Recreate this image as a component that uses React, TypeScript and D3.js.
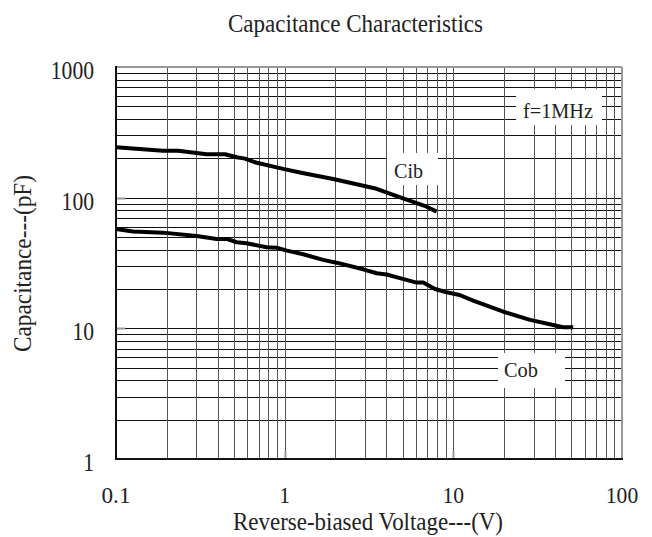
import React from "react";
import * as d3 from "d3";

const cibVoltage = [0.1, 0.19, 0.234, 0.345, 0.443, 0.519, 0.582, 0.682, 0.98, 1.23, 1.94, 3.51, 4.4, 6.95, 7.96];
const cibCap = [243, 229, 229, 215, 215, 204, 199, 185, 166, 156, 139, 117, 105, 85.3, 78.2];

const cobVoltage = [0.1, 0.1266, 0.19, 0.301, 0.395, 0.453, 0.519, 0.595, 0.782, 0.897, 1.03, 1.29, 1.69, 2.03, 2.92, 3.51, 4.02, 4.82, 6.06, 6.63, 7.78, 9.13, 10.9, 13.1, 19.8, 28.5, 39.1, 44.8, 51.4];
const cobCap = [57.6, 55.0, 54.0, 50.9, 48.3, 48.3, 45.6, 44.8, 41.7, 41.4, 39.3, 36.9, 33.4, 31.8, 28.3, 26.4, 25.8, 24.2, 22.4, 22.4, 20.0, 18.9, 18.0, 16.3, 13.4, 11.6, 10.6, 10.2, 10.2];

const xTicks = [0.1, 1, 10, 100];
const xTickLabels = ["0.1", "1", "10", "100"];
const yTicks = [1, 10, 100, 1000];
const yTickLabels = ["1", "10", "100", "1000"];

const title = "Capacitance Characteristics";
const xTitle = "Reverse-biased Voltage---(V)";
const yTitle = "Capacitance---(pF)";

const W = 652;
const H = 537;
const L = 116, R = 622, T = 67, B = 459;
const FONT = "'Liberation Serif', 'Times New Roman', serif";

function minorValues(lo: number, hi: number) {
  const out: number[] = [];
  for (let d = lo; d < hi; d *= 10) {
    for (let k = 1; k <= 9; k++) {
      const v = +(d * k).toPrecision(6);
      if (v > lo && v < hi) out.push(v);
    }
  }
  return out;
}

export default function App() {
  const x = d3.scaleLog().domain([0.1, 100]).range([L, R]);
  const y = d3.scaleLog().domain([1, 1000]).range([B, T]);
  const line = d3
    .line<[number, number]>()
    .x((d) => x(d[0]))
    .y((d) => y(d[1]))
    .curve(d3.curveLinear);

  const cib = cibVoltage.map((v, i) => [v, cibCap[i]] as [number, number]);
  const cob = cobVoltage.map((v, i) => [v, cobCap[i]] as [number, number]);

  const vLines = minorValues(0.1, 100);
  const hLines = minorValues(1, 1000);

  const boxes = [
    { text: "f=1MHz", x0: 516, x1: 602, y0: 89, y1: 125, tx: 558, ty: 118, w: 70 },
    { text: "Cib", x0: 387, x1: 438, y0: 153, y1: 185, tx: 408.5, ty: 178, w: 29 },
    { text: "Cob", x0: 498, x1: 565, y0: 353, y1: 388, tx: 521, ty: 377, w: 34 },
  ];

  const charW = 10.8;

  return (
    <svg
      width={W}
      height={H}
      style={{ position: "absolute", left: 0, top: 0, background: "#fff" }}
      fontFamily={FONT}
    >
      <rect x={0} y={0} width={W} height={H} fill="#fff" />
      {hLines.map((v) => (
        <line key={"h" + v} x1={L} x2={R} y1={Math.round(y(v)) + 0.5} y2={Math.round(y(v)) + 0.5} stroke="#111" strokeWidth={1} />
      ))}
      {vLines.map((v) => (
        <line key={"v" + v} x1={Math.round(x(v)) + 0.5} x2={Math.round(x(v)) + 0.5} y1={T} y2={B} stroke="#555" strokeWidth={1} />
      ))}
      {boxes.map((b) => (
        <rect key={"r" + b.text} x={b.x0} y={b.y0} width={b.x1 - b.x0} height={b.y1 - b.y0} fill="#fff" />
      ))}
      {yTicks.slice(1, 3).map((v) => (
        <line key={"yt" + v} x1={L} x2={L + 9} y1={Math.round(y(v)) + 0.5} y2={Math.round(y(v)) + 0.5} stroke="#999" strokeWidth={2} />
      ))}
      {xTicks.slice(1, 3).map((v) => (
        <line key={"xt" + v} x1={Math.round(x(v)) + 0.5} x2={Math.round(x(v)) + 0.5} y1={B} y2={B - 8} stroke="#999" strokeWidth={2} />
      ))}
      <line x1={L} x2={R} y1={T} y2={T} stroke="#999" strokeWidth={2} />
      <line x1={R} x2={R} y1={T} y2={B} stroke="#999" strokeWidth={2} />
      <line x1={L} x2={L} y1={T - 1} y2={B + 1} stroke="#111" strokeWidth={2} />
      <line x1={L - 1} x2={R + 1} y1={B} y2={B} stroke="#111" strokeWidth={2} />

      <path d={line(cib) || ""} fill="none" stroke="#000" strokeWidth={4} strokeLinejoin="round" />
      <path d={line(cob) || ""} fill="none" stroke="#000" strokeWidth={4} strokeLinejoin="round" />

      {boxes.map((b) => (
        <text key={"t" + b.text} x={b.tx} y={b.ty} textAnchor="middle" fontSize={21} fill="#222" textLength={b.w} lengthAdjust="spacingAndGlyphs">
          {b.text}
        </text>
      ))}

      {yTicks.map((v, i) => (
        <text key={"yl" + v} x={94} y={y(v) + 12} textAnchor="end" fontSize={25} fill="#222" textLength={yTickLabels[i].length * charW} lengthAdjust="spacingAndGlyphs">
          {yTickLabels[i]}
        </text>
      ))}
      {xTicks.map((v, i) => (
        <text key={"xl" + v} x={x(v)} y={503} textAnchor="middle" fontSize={23} fill="#222" textLength={xTickLabels[i] === "0.1" ? 29 : xTickLabels[i].length * charW} lengthAdjust="spacingAndGlyphs">
          {xTickLabels[i]}
        </text>
      ))}
      <text x={355.5} y={32} textAnchor="middle" fontSize={26} fill="#222" textLength={255} lengthAdjust="spacingAndGlyphs">
        {title}
      </text>
      <text x={368} y={530} textAnchor="middle" fontSize={26} fill="#222" textLength={270} lengthAdjust="spacingAndGlyphs">
        {xTitle}
      </text>
      <text transform={`translate(31, 263.5) rotate(-90)`} textAnchor="middle" fontSize={26} fill="#222" textLength={177} lengthAdjust="spacingAndGlyphs">
        {yTitle}
      </text>
    </svg>
  );
}
